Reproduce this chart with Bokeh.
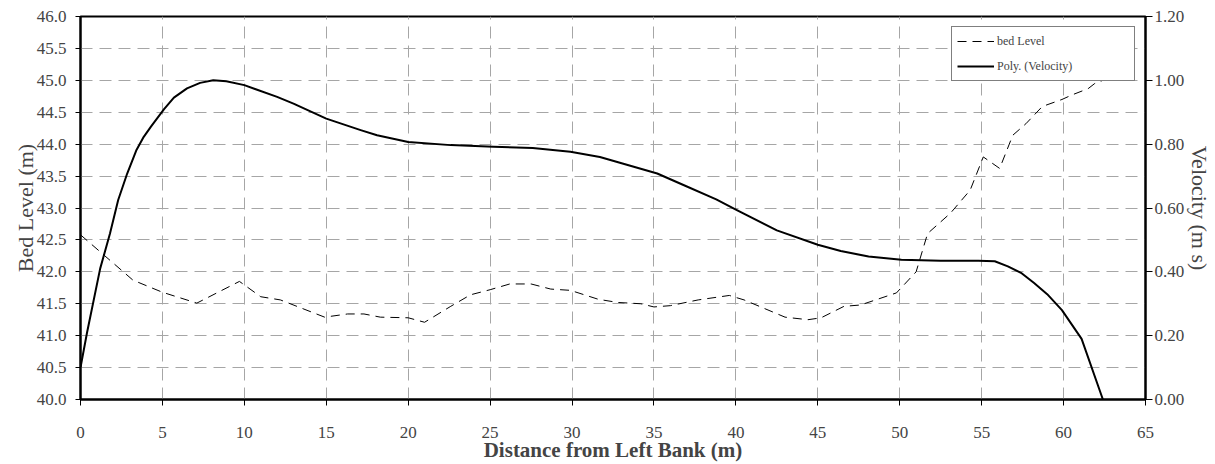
from bokeh.plotting import figure
from bokeh.models import (Range1d, LinearAxis, FixedTicker, NumeralTickFormatter,
                          Legend, LegendItem)
from bokeh.embed import file_html
from bokeh.resources import INLINE

# ---- data ----
bed_x = [0, 3.2, 5.0, 7.1, 9.7, 11.0, 12.2, 14.9, 16.3, 17.3, 18.3, 20.0, 21.0,
         22.6, 23.8, 25.0, 26.2, 27.5, 28.7, 29.9, 31.6, 32.8, 34.2, 35.0, 36.0,
         37.7, 39.6, 40.5, 43.0, 44.4, 45.2, 46.6, 47.6, 49.8, 51.0, 51.7, 53.1,
         54.3, 55.1, 56.1, 56.9, 57.7, 58.7, 59.9, 60.5, 61.5, 61.9, 62.4]
bed_level = [42.58, 41.87, 41.68, 41.51, 41.85, 41.61, 41.56, 41.29, 41.34, 41.34,
             41.29, 41.28, 41.21, 41.46, 41.64, 41.72, 41.81, 41.81, 41.73, 41.71,
             41.57, 41.52, 41.50, 41.45, 41.47, 41.56, 41.63, 41.56, 41.29, 41.25,
             41.28, 41.46, 41.48, 41.67, 42.00, 42.60, 42.92, 43.28, 43.80, 43.62,
             44.14, 44.32, 44.59, 44.70, 44.77, 44.87, 44.95, 45.00]

vel_x = [0, 0.4, 1.2, 1.8, 2.3, 2.85, 3.4, 3.86, 4.3, 5.1, 5.7, 6.5, 7.3, 8.1, 8.9,
         10.0, 12.0, 13.0, 15.0, 17.1, 18.1, 20.0, 22.6, 25.2, 27.6, 29.9, 31.7,
         35.2, 36.8, 38.8, 40.0, 42.5, 45.0, 46.4, 48.1, 50.1, 52.5, 54.8, 55.8,
         56.6, 57.4, 58.2, 59.0, 59.9, 61.1, 62.4]
velocity = [0.10, 0.21, 0.41, 0.52, 0.625, 0.708, 0.78, 0.823, 0.855, 0.91, 0.946,
            0.975, 0.992, 1.0, 0.997, 0.985, 0.948, 0.927, 0.88, 0.844, 0.828, 0.807,
            0.797, 0.792, 0.788, 0.776, 0.76, 0.708, 0.672, 0.627, 0.595, 0.53,
            0.485, 0.465, 0.448, 0.438, 0.435, 0.435, 0.433, 0.417, 0.397,
            0.365, 0.33, 0.28, 0.19, 0.0]

x_ticks = list(range(0, 70, 5))
bed_ticks = [40.0, 40.5, 41.0, 41.5, 42.0, 42.5, 43.0, 43.5, 44.0, 44.5, 45.0, 45.5, 46.0]
vel_ticks = [0.0, 0.2, 0.4, 0.6, 0.8, 1.0, 1.2]

FONT = "Liberation Serif"

p = figure(width=1215, height=464, output_backend="svg", toolbar_location=None,
           x_range=Range1d(0, 65), y_range=Range1d(40, 46),
           min_border_left=80, min_border_right=70, min_border_top=16,
           min_border_bottom=64)
p.extra_y_ranges = {"vel": Range1d(0, 1.2)}
p.outline_line_color = "black"
p.outline_line_width = 2
p.background_fill_color = "white"
p.border_fill_color = "white"

# axes styling
xa = p.xaxis[0]
xa.ticker = FixedTicker(ticks=x_ticks)
xa.axis_label = "Distance from Left Bank (m)"
xa.axis_label_text_font = FONT
xa.axis_label_text_font_style = "bold"
xa.axis_label_text_font_size = "21px"
xa.axis_label_standoff = -3
xa.major_label_text_font = FONT
xa.major_label_text_font_size = "17px"
xa.major_label_standoff = 21
xa.major_tick_out = 6
xa.major_tick_in = 0
xa.minor_tick_line_color = None
xa.axis_line_width = 2
xa.axis_line_color = "black"

ya = p.yaxis[0]
ya.ticker = FixedTicker(ticks=bed_ticks)
ya.formatter = NumeralTickFormatter(format="0.0")
ya.axis_label = "Bed Level (m)"
ya.axis_label_text_font = FONT
ya.axis_label_text_font_style = "normal"
ya.axis_label_text_font_size = "22px"
ya.axis_label_standoff = -4
ya.major_label_text_font = FONT
ya.major_label_text_font_size = "17px"
ya.major_label_standoff = 9
ya.major_tick_out = 5
ya.major_tick_in = 0
ya.minor_tick_line_color = None
ya.axis_line_width = 2

ra = LinearAxis(y_range_name="vel", ticker=FixedTicker(ticks=vel_ticks),
                formatter=NumeralTickFormatter(format="0.00"))
ra.axis_label = "Velocity (m s)"
ra.axis_label_text_font = FONT
ra.axis_label_text_font_style = "normal"
ra.axis_label_text_font_size = "22px"
ra.axis_label_standoff = 0
ra.major_label_text_font = FONT
ra.major_label_text_font_size = "17px"
ra.major_label_standoff = 2
ra.major_tick_out = 7
ra.major_tick_in = 0
ra.minor_tick_line_color = None
ra.axis_line_width = 2
p.add_layout(ra, "right")

# grid
for g in (p.xgrid[0], p.ygrid[0]):
    g.grid_line_color = "#a6a6a6"
    g.grid_line_dash = "12 7"
    g.grid_line_width = 1
p.ygrid[0].ticker = FixedTicker(ticks=bed_ticks)
p.xgrid[0].ticker = FixedTicker(ticks=x_ticks)

# series
r_bed = p.line(bed_x, bed_level, line_color="black", line_width=1, line_dash="9 6")
r_vel = p.line(vel_x, velocity, y_range_name="vel", line_color="black",
               line_width=2, line_join="round")

legend = Legend(items=[LegendItem(label="bed Level", renderers=[r_bed]),
                       LegendItem(label="Poly. (Velocity)", renderers=[r_vel])],
                location="top_right", margin=10, padding=5,
                glyph_width=37, glyph_height=18, label_height=18, spacing=7,
                label_standoff=3, label_width=132,
                label_text_font=FONT, label_text_font_size="12px",
                border_line_color="black", border_line_width=1,
                background_fill_color="white", background_fill_alpha=1)
p.add_layout(legend)

open("out.html", "w").write(file_html(p, INLINE))
